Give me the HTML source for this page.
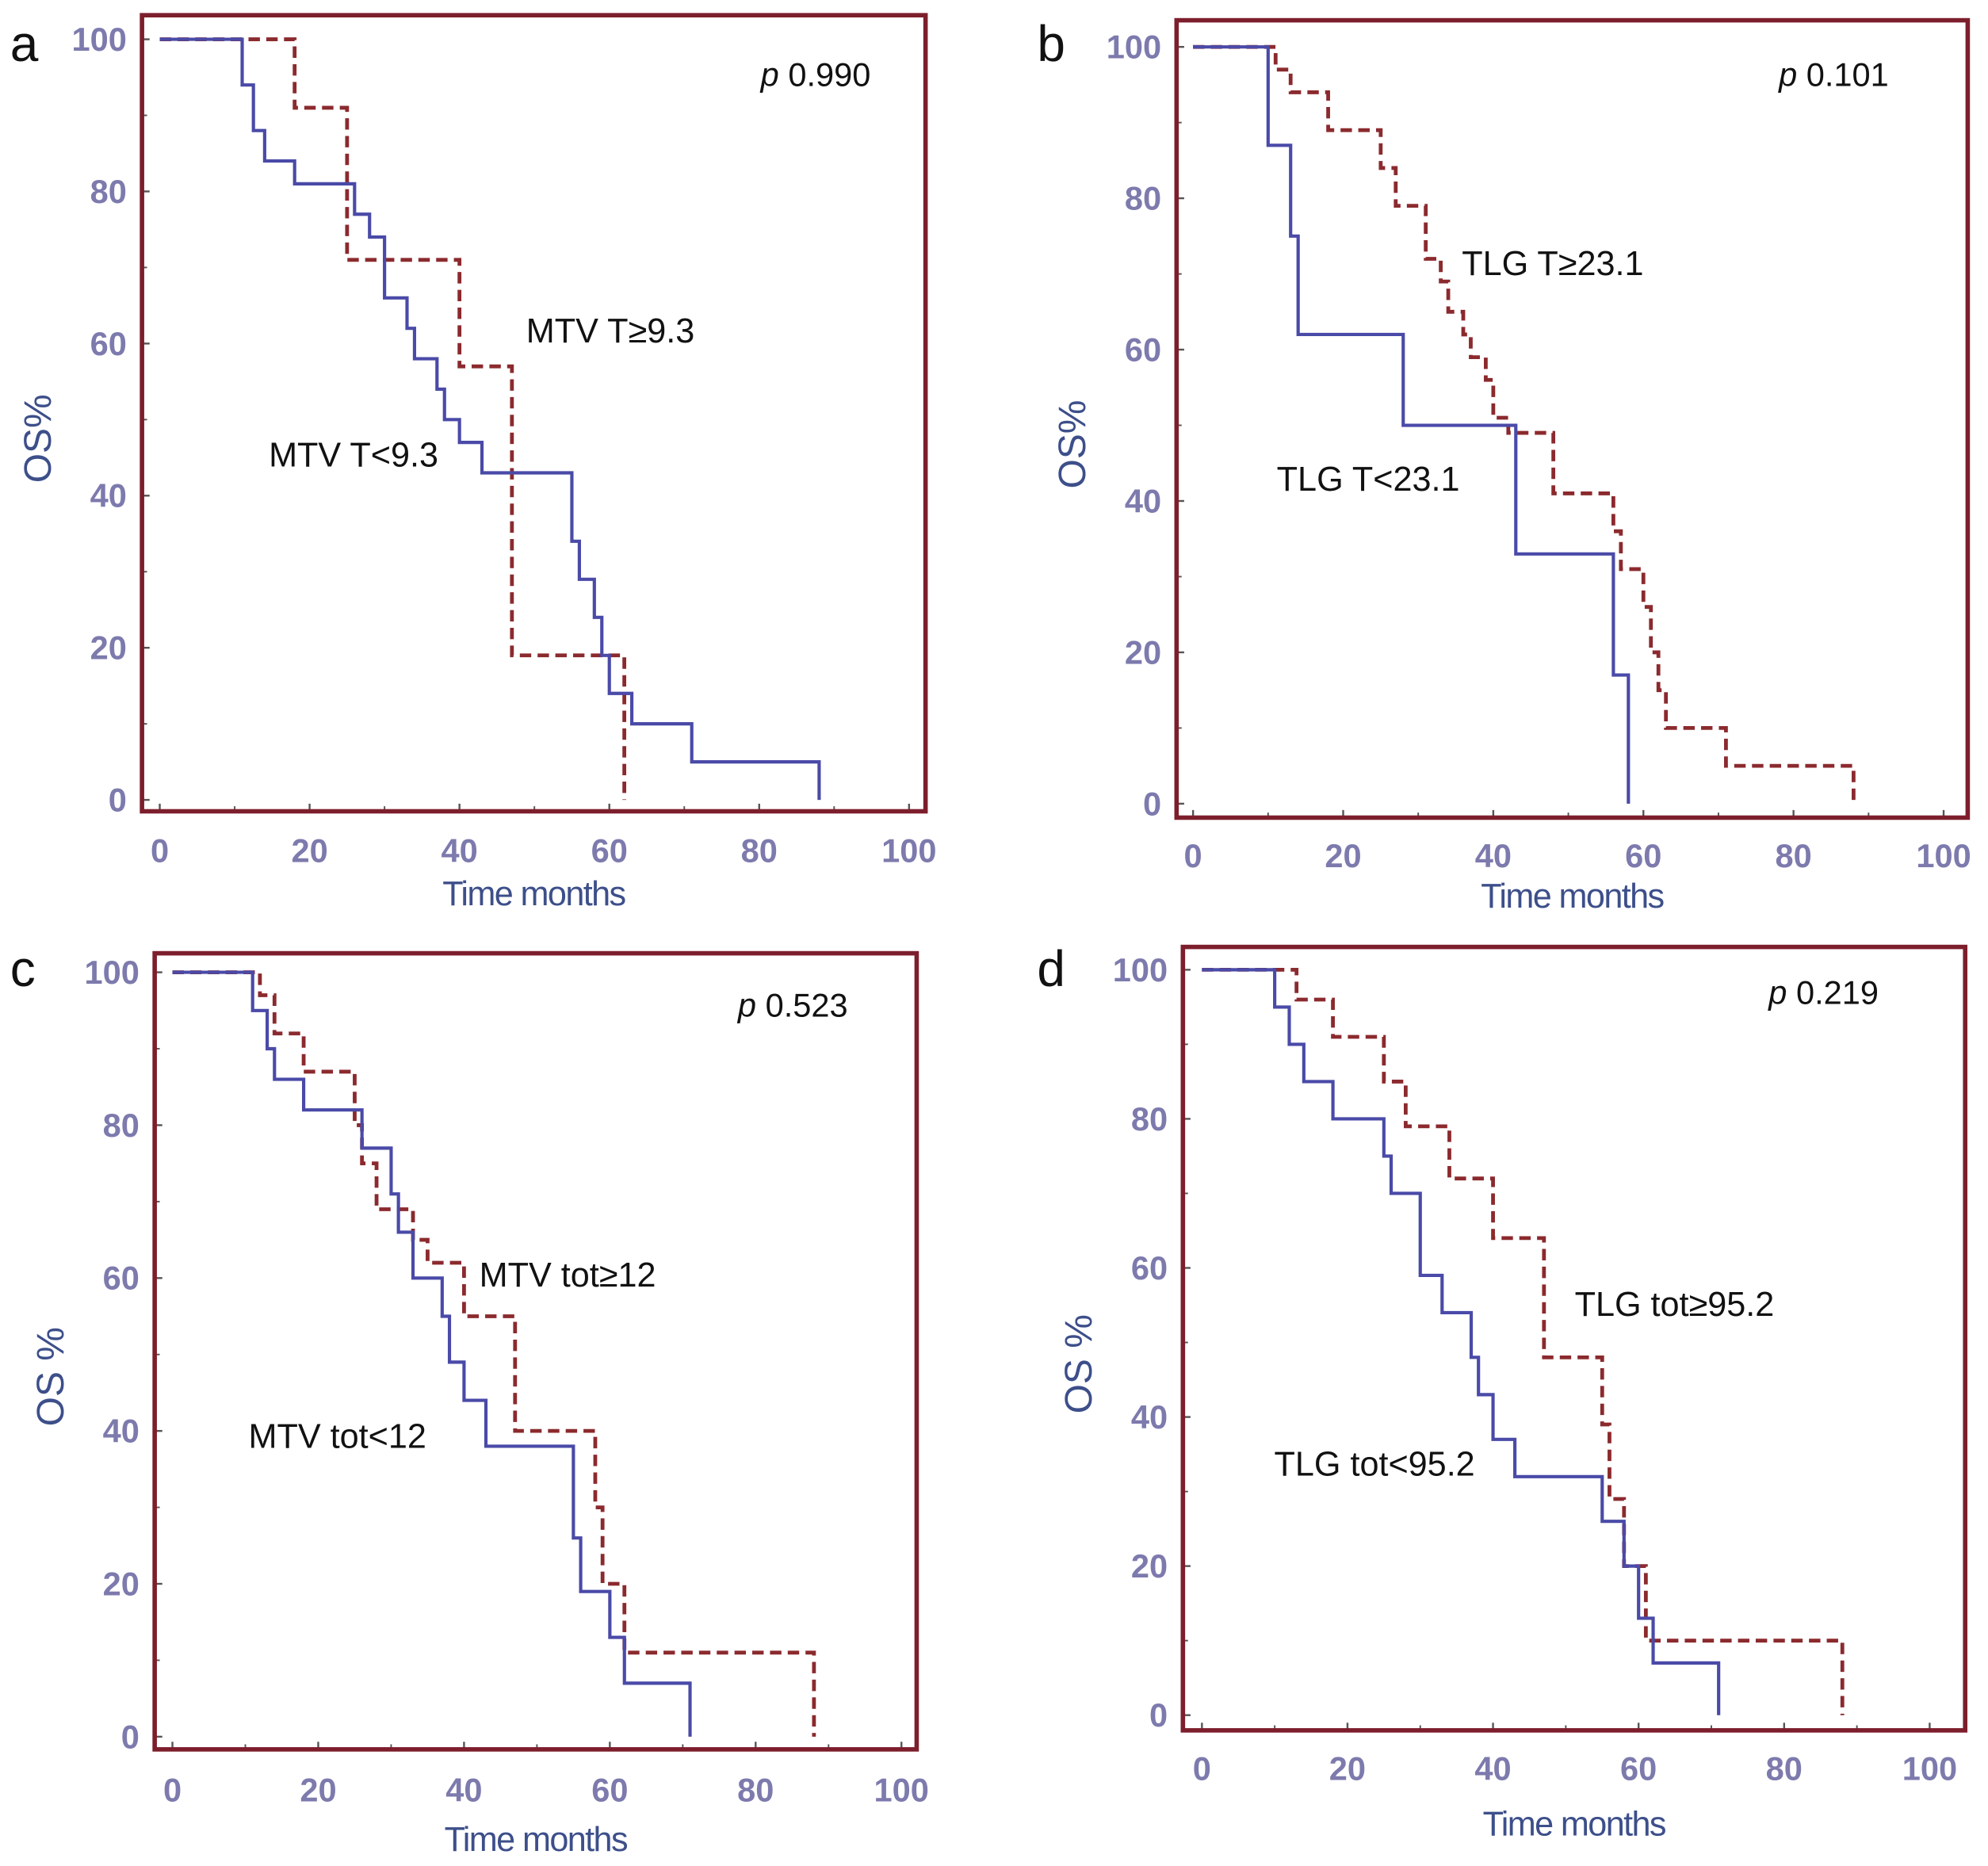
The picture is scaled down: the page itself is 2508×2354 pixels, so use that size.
<!DOCTYPE html>
<html><head><meta charset="utf-8"><style>
html,body{margin:0;padding:0;background:#fff;}
svg{display:block;}
text{font-family:"Liberation Sans",sans-serif;}
</style></head><body>
<svg id="fig" width="2508" height="2354" viewBox="0 0 1568 1472" preserveAspectRatio="none" xmlns="http://www.w3.org/2000/svg"></svg>
<script>
// x ticks and y ticks
const xTicks = [0,20,40,60,80,100];
const yTicks = [0,20,40,60,80,100];
// Panel a
const aBlueT = [0,11,12.5,14,18,26,28,30,33,34,37,38,40,43,55,56,58,59,60,63,71,88];
const aBlueS = [100,94,88,84,81,77,74,66,62,58,54,50,47,43,34,29,24,19,14,10,5,0];
const aRedT = [0,18,25,40,47,62];
const aRedS = [100,91,71,57,19,0];
// Panel b
const bBlueT = [0,10,13,14,28,43,56,58];
const bBlueS = [100,87,75,62,50,33,17,0];
const bRedT = [0,11,13,18,25,27,31,33,34,36,37,39,40,42,48,56,57,60,61,62,63,71,88];
const bRedS = [100,97,94,89,84,79,72,69,65,62,59,56,51,49,41,36,31,26,20,15,10,5,0];
// Panel c
const cBlueT = [0,11,13,14,18,26,30,31,33,37,38,40,43,55,56,60,62,71];
const cBlueS = [100,95,90,86,82,77,71,66,60,55,49,44,38,26,19,13,7,0];
const cRedT = [0,12,14,18,25,26,28,33,35,40,47,58,59,62,88];
const cRedS = [100,97,92,87,80,75,69,65,62,55,40,30,20,11,0];
// Panel d
const dBlueT = [0,10,12,14,18,25,26,30,33,37,38,40,43,55,58,60,62,71];
const dBlueS = [100,95,90,85,80,75,70,59,54,48,43,37,32,26,20,13,7,0];
const dRedT = [0,13,18,25,28,34,40,47,55,56,58,61,88];
const dRedS = [100,96,91,85,79,72,64,48,39,29,20,10,0];

const NS = "http://www.w3.org/2000/svg";
const svg = document.getElementById('fig');
function mk(tag, attrs, parent){const e=document.createElementNS(NS,tag);for(const k in attrs)e.setAttribute(k,attrs[k]);(parent||svg).appendChild(e);return e;}

const panels = [
 {id:'a',fl:112,ft:12,fr:730,fb:640,x0:126,x100:717,y100:31,y0:631,blueT:aBlueT,blueS:aBlueS,redT:aRedT,redS:aRedS,
  yTitle:'OS%',p:'0.990',px:600,py:68,hi:'MTV T≥9.3',hix:415,hiy:270,lo:'MTV T<9.3',lox:212,loy:368,lx:8,ly:48,xtY:680,ttY:714},
 {id:'b',fl:928,ft:16,fr:1552,fb:645,x0:941,x100:1533,y100:37,y0:634,blueT:bBlueT,blueS:bBlueS,redT:bRedT,redS:bRedS,
  yTitle:'OS%',p:' 0.101',px:1403,py:68,hi:'TLG T≥23.1',hix:1153,hiy:217,lo:'TLG T<23.1',lox:1007,loy:387,lx:818,ly:48,xtY:684,ttY:716},
 {id:'c',fl:122,ft:752,fr:723,fb:1380,x0:136,x100:711,y100:767,y0:1370,blueT:cBlueT,blueS:cBlueS,redT:cRedT,redS:cRedS,
  yTitle:'OS %',p:'0.523',px:582,py:802,hi:'MTV tot≥12',hix:378,hiy:1015,lo:'MTV tot<12',lox:196,loy:1142,lx:8,ly:778,xtY:1421,ttY:1460},
 {id:'d',fl:933,ft:747,fr:1550,fb:1365,x0:948,x100:1522,y100:765,y0:1353,blueT:dBlueT,blueS:dBlueS,redT:dRedT,redS:dRedS,
  yTitle:'OS %',p:' 0.219',px:1395,py:792,hi:'TLG tot≥95.2',hix:1242,hiy:1038,lo:'TLG tot<95.2',lox:1005,loy:1164,lx:818,ly:778,xtY:1404,ttY:1448}
];

function stepPath(T,S,sx,sy){
  let d='M'+sx(T[0])+','+sy(S[0]);
  for(let i=1;i<T.length;i++){d+=' H'+sx(T[i])+' V'+sy(S[i]);}
  return d;
}

panels.forEach(P=>{
  const g = mk('g',{});
  
  
  const sx = v => P.x0 + (P.x100-P.x0)*v/100;
  const sy = v => P.y0 + (P.y100-P.y0)*v/100;
  const L = mk('text',{x:P.lx,y:P.ly,'font-size':40,fill:'#111'},g); L.textContent=P.id;
  
  
  xTicks.forEach(v=>{
    const t=mk('text',{x:sx(v),y:P.xtY,'font-size':26,'font-weight':'bold',fill:'#7d7aad','text-anchor':'middle'},g);t.textContent=v;
    
    
    mk('line',{x1:sx(v),x2:sx(v),y1:P.fb,y2:P.fb-6,stroke:'#555','stroke-width':1.5},g);
    if(v<100) mk('line',{x1:sx(v+10),x2:sx(v+10),y1:P.fb,y2:P.fb-4,stroke:'#555','stroke-width':1.2},g);
  });
  yTicks.forEach(v=>{
    const t=mk('text',{x:P.fl-12,y:sy(v)+9,'font-size':26,'font-weight':'bold',fill:'#7d7aad','text-anchor':'end'},g);t.textContent=v;
    
    
    mk('line',{x1:P.fl,x2:P.fl+6,y1:sy(v),y2:sy(v),stroke:'#555','stroke-width':1.5},g);
    if(v<100) mk('line',{x1:P.fl,x2:P.fl+4,y1:sy(v+10),y2:sy(v+10),stroke:'#555','stroke-width':1.2},g);
  });
  const xt=mk('text',{x:(P.fl+P.fr)/2,y:P.ttY,'font-size':27,fill:'#3d4f8a','text-anchor':'middle','letter-spacing':'-1'},g);xt.textContent='Time months';
  
  
  const cy=(P.ft+P.fb)/2+20;
  const yt=mk('text',{x:P.fl-72,y:cy,'font-size':30,fill:'#3d4f8a','text-anchor':'middle',transform:'rotate(-90 '+(P.fl-72)+' '+cy+')'},g);yt.textContent=P.yTitle;
  
  
  const r=mk('path',{d:stepPath(P.redT,P.redS,sx,sy),fill:'none',stroke:'#8b2a2e','stroke-width':3,'stroke-dasharray':'9,5'},g);
  
  
  const b=mk('path',{d:stepPath(P.blueT,P.blueS,sx,sy),fill:'none',stroke:'#4a4aa8','stroke-width':2.6},g);
  
  
  const f=mk('rect',{x:P.fl,y:P.ft,width:P.fr-P.fl,height:P.fb-P.ft,fill:'none',stroke:'#7d1e2c','stroke-width':3.5},g);
  
  
  const pt=mk('text',{x:P.px,y:P.py,'font-size':26,fill:'#111'},g);
  pt.innerHTML='<tspan font-style="italic">p</tspan> '+P.p;
  
  
  const hi=mk('text',{x:P.hix,y:P.hiy,'font-size':27,fill:'#111'},g);hi.textContent=P.hi;
  
  
  const lo=mk('text',{x:P.lox,y:P.loy,'font-size':27,fill:'#111'},g);lo.textContent=P.lo;
  
  
});
</script>
</body></html>
